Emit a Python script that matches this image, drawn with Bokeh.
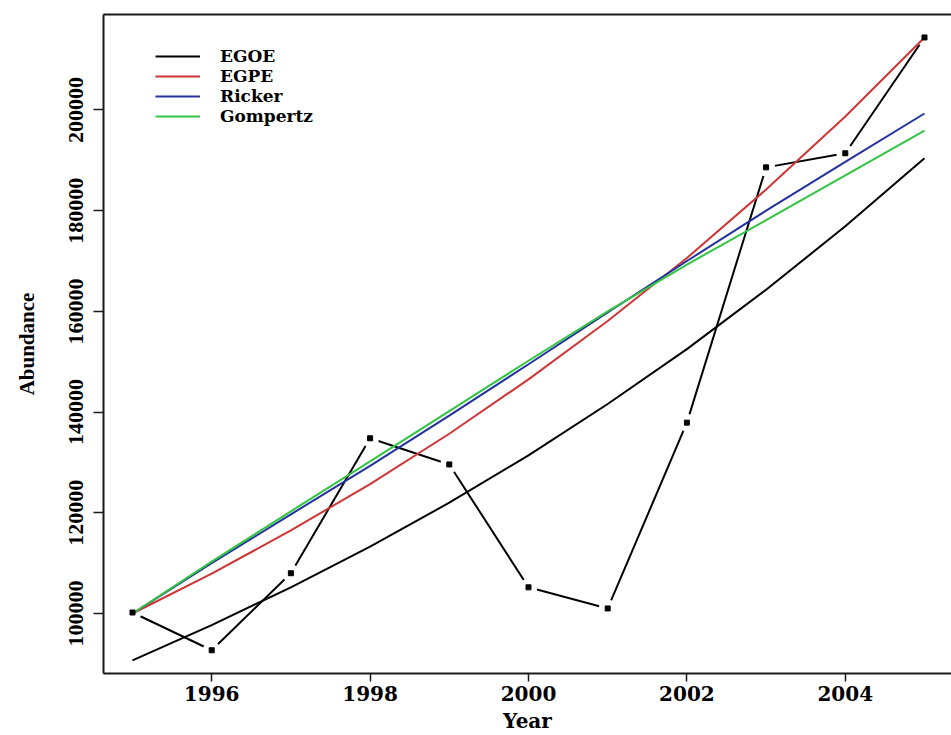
from bokeh.plotting import figure
from bokeh.models import (Range1d, FixedTicker, LinearAxis, Legend, LegendItem,
                          BasicTickFormatter)
from bokeh.embed import file_html
from bokeh.resources import INLINE

years = [1995, 1996, 1997, 1998, 1999, 2000, 2001, 2002, 2003, 2004, 2005]
observed = [100200, 92700, 108000, 134800, 129600, 105200, 101000, 137900, 188600, 191400, 214400]
egoe = [90700, 97700, 105200, 113300, 122000, 131400, 141600, 152500, 164300, 176900, 190400]
egpe = [100000, 107900, 116500, 125700, 135700, 146500, 158100, 170600, 184200, 198700, 214400]
ricker = [100000, 110000, 119700, 129300, 139300, 149500, 159800, 170000, 180000, 189700, 199300]
gompertz = [100000, 110300, 120300, 130200, 140200, 150200, 160000, 169300, 178100, 187000, 195900]

x_ticks = [1996, 1998, 2000, 2002, 2004]
y_ticks = [100000, 120000, 140000, 160000, 180000, 200000]

p = figure(width=951, height=735,
           x_range=Range1d(1994.634, 2005.341), y_range=Range1d(88084, 218960),
           output_backend="svg", toolbar_location=None,
           min_border_left=103, min_border_right=0, min_border_top=14, min_border_bottom=62)
p.grid.visible = False
p.outline_line_color = None
p.background_fill_color = "white"
p.border_fill_color = "white"

for ax in (p.xaxis[0], p.yaxis[0]):
    ax.axis_line_width = 2
    ax.axis_line_color = "#1a1a1a"
    ax.major_tick_line_width = 1.5
    ax.major_tick_line_color = "#1a1a1a"
    ax.major_tick_in = 0
    ax.minor_tick_line_color = None
    ax.major_label_text_color = "black"
    ax.axis_label_text_color = "black"
    ax.axis_label_text_font_style = "bold"

p.xaxis.ticker = FixedTicker(ticks=x_ticks)
p.xaxis.major_tick_out = 8
p.xaxis.major_label_text_font = "DejaVu Serif"
p.xaxis.major_label_text_font_style = "bold"
p.xaxis.major_label_text_font_size = "20px"
p.xaxis.major_label_standoff = 4
p.xaxis.axis_label = "Year"
p.xaxis.axis_label_text_font = "DejaVu Serif"
p.xaxis.axis_label_text_font_size = "20px"
p.xaxis.axis_label_standoff = 5

p.yaxis.ticker = FixedTicker(ticks=y_ticks)
p.yaxis.formatter = BasicTickFormatter(use_scientific=False)
p.yaxis.major_tick_out = 10
p.yaxis.major_label_orientation = "vertical"
p.yaxis.major_label_text_font = "Liberation Serif"
p.yaxis.major_label_text_font_style = "bold"
p.yaxis.major_label_text_font_size = "22px"
p.yaxis.major_label_standoff = 10
p.yaxis.axis_label = "Abundance"
p.yaxis.axis_label_text_font = "Liberation Serif"
p.yaxis.axis_label_text_font_size = "21px"
p.yaxis.axis_label_standoff = 28

top_axis = LinearAxis(ticker=FixedTicker(ticks=[]), axis_line_width=2,
                      axis_line_color="#1a1a1a", major_tick_line_color=None,
                      minor_tick_line_color=None, major_label_text_font_size="0px")
p.add_layout(top_axis, "above")

# observed series, R type="b" style (lines with gaps around the points)
p.line(years, observed, line_color="black", line_width=2)
p.scatter(years, observed, marker="circle", size=18, fill_color="white", line_color=None)

r_egoe = p.line(years, egoe, line_color="black", line_width=2)
r_egpe = p.line(years, egpe, line_color="#d03535", line_width=2)
r_ricker = p.line(years, ricker, line_color="#2233a0", line_width=2)
r_gomp = p.line(years, gompertz, line_color="#33c444", line_width=2)

p.scatter(years, observed, marker="square", size=5, color="black")

legend = Legend(items=[LegendItem(label="EGOE", renderers=[r_egoe]),
                       LegendItem(label="EGPE", renderers=[r_egpe]),
                       LegendItem(label="Ricker", renderers=[r_ricker]),
                       LegendItem(label="Gompertz", renderers=[r_gomp])],
                location=(52, 547), border_line_color=None, background_fill_alpha=0,
                padding=0, margin=0, spacing=0, label_height=20, glyph_height=20,
                glyph_width=45, label_standoff=20,
                label_text_font="DejaVu Serif", label_text_font_style="bold",
                label_text_font_size="17px", label_text_color="black")
p.add_layout(legend)

open("out.html", "w").write(file_html(p, INLINE))
